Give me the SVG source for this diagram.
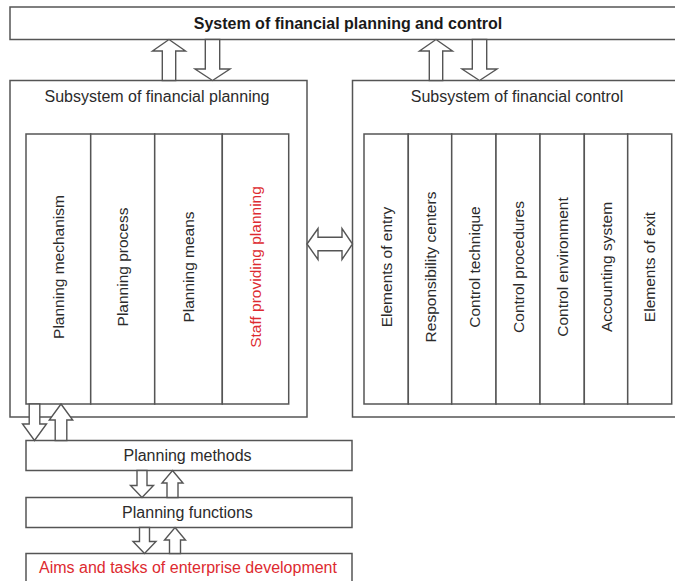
<svg xmlns="http://www.w3.org/2000/svg" width="675" height="581" viewBox="0 0 675 581">
<style>
.box{fill:#fff;stroke:#555;stroke-width:1.5}
.arr{fill:#fff;stroke:#555;stroke-width:1.4;stroke-linejoin:miter}
.t{font-family:"Liberation Sans",Arial,sans-serif;font-size:16px;fill:#2b2b2b;text-anchor:middle}
.v{font-family:"Liberation Sans",Arial,sans-serif;font-size:15.5px;fill:#2b2b2b;text-anchor:middle}
.b{font-weight:bold;fill:#1a1a1a}
.red{fill:#dd2a30}
</style>
<rect width="675" height="581" fill="#fff"/>
<g id="system">
<rect class="box" x="10" y="7" width="680" height="32.5"/>
<text class="t b" x="348" y="29">System of financial planning and control</text>
</g>
<g id="planning-subsystem">
<rect class="box" x="10" y="80.5" width="297" height="336.5"/>
<text class="t" x="157" y="102">Subsystem of financial planning</text>
</g>
<g id="control-subsystem">
<rect class="box" x="352.5" y="80.5" width="340" height="336.5"/>
<text class="t" x="517" y="102">Subsystem of financial control</text>
</g>
<g id="planning-mechanism"><rect class="box" x="26" y="134" width="64.7" height="270"/><text class="v" transform="translate(64,267) rotate(-90)">Planning mechanism</text></g>
<g id="planning-process"><rect class="box" x="90.7" y="134" width="64" height="270"/><text class="v" transform="translate(128,267) rotate(-90)">Planning process</text></g>
<g id="planning-means"><rect class="box" x="154.7" y="134" width="67.6" height="270"/><text class="v" transform="translate(194,267) rotate(-90)">Planning means</text></g>
<g id="staff-providing-planning"><rect class="box" x="222.3" y="134" width="66.4" height="270"/><text class="v red" transform="translate(261,267) rotate(-90)">Staff providing planning</text></g>
<g id="elements-of-entry"><rect class="box" x="364" y="134" width="44.3" height="270"/><text class="v" transform="translate(391.5,267) rotate(-90)">Elements of entry</text></g>
<g id="responsibility-centers"><rect class="box" x="408.3" y="134" width="43.4" height="270"/><text class="v" transform="translate(435.5,267) rotate(-90)">Responsibility centers</text></g>
<g id="control-technique"><rect class="box" x="451.7" y="134" width="44.3" height="270"/><text class="v" transform="translate(479.5,267) rotate(-90)">Control technique</text></g>
<g id="control-procedures"><rect class="box" x="496" y="134" width="44" height="270"/><text class="v" transform="translate(523.5,267) rotate(-90)">Control procedures</text></g>
<g id="control-environment"><rect class="box" x="540" y="134" width="44.3" height="270"/><text class="v" transform="translate(567.5,267) rotate(-90)">Control environment</text></g>
<g id="accounting-system"><rect class="box" x="584.3" y="134" width="43.4" height="270"/><text class="v" transform="translate(611.5,267) rotate(-90)">Accounting system</text></g>
<g id="elements-of-exit"><rect class="box" x="627.7" y="134" width="44" height="270"/><text class="v" transform="translate(655,267) rotate(-90)">Elements of exit</text></g>
<g id="planning-methods">
<rect class="box" x="26" y="440.5" width="326" height="30"/>
<text class="t" x="187.5" y="461">Planning methods</text>
</g>
<g id="planning-functions">
<rect class="box" x="26" y="497.5" width="326" height="30"/>
<text class="t" x="187.5" y="517.5">Planning functions</text>
</g>
<g id="aims">
<rect class="box" x="26" y="553.5" width="326" height="40"/>
<text class="t red" x="188" y="573">Aims and tasks of enterprise development</text>
</g>
<g id="connectors">
<polygon class="arr" points="169,39.5 185.5,51 175.7,51 175.7,80.5 162.3,80.5 162.3,51 152.5,51"/>
<polygon class="arr" points="205.3,39.5 219.7,39.5 219.7,69 230,69 212.5,80.5 195,69 205.3,69"/>
<polygon class="arr" points="436,39.5 452.5,51 442.7,51 442.7,80.5 429.3,80.5 429.3,51 419.5,51"/>
<polygon class="arr" points="472.3,39.5 486.7,39.5 486.7,69 497,69 479.5,80.5 462,69 472.3,69"/>
<polygon class="arr" points="307,244 318,228.5 318,237.3 342,237.3 342,228.5 352.5,244 342,259.5 342,250.7 318,250.7 318,259.5"/>
<polygon class="arr" points="29.2,404 39.8,404 39.8,424 46.5,424 34.5,440.5 22.5,424 29.2,424"/>
<polygon class="arr" points="61,404 72.7,420 66.8,420 66.8,440.5 55.2,440.5 55.2,420 49.3,420"/>
<polygon class="arr" points="137,470.5 147,470.5 147,485.5 153.5,485.5 142,497.5 130.5,485.5 137,485.5"/>
<polygon class="arr" points="172.5,470.5 183,483 178,483 178,497.5 167,497.5 167,483 162,483"/>
<polygon class="arr" points="139.5,527.5 149.5,527.5 149.5,541.5 156,541.5 144.5,553.5 133,541.5 139.5,541.5"/>
<polygon class="arr" points="175,527.5 185.5,540 180.5,540 180.5,553.5 169.5,553.5 169.5,540 164.5,540"/>
</g>
</svg>
